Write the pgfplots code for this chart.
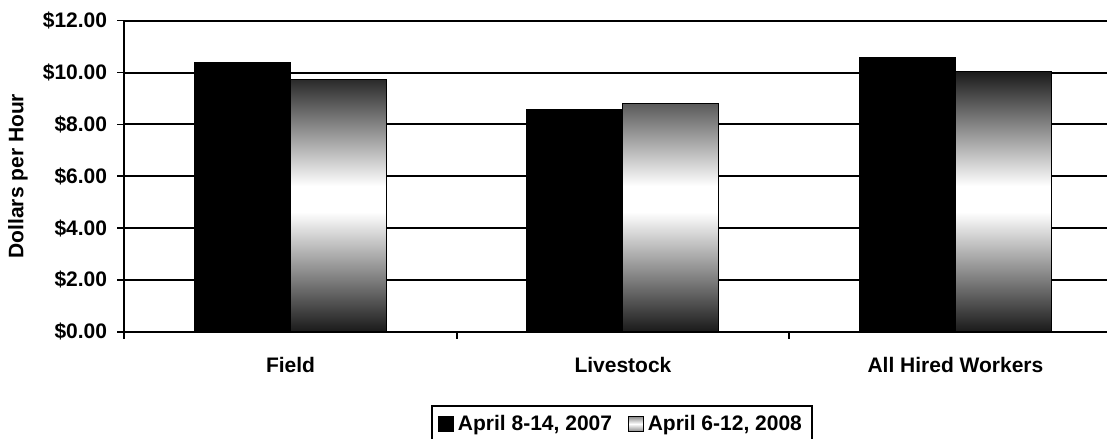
\documentclass[border=0pt]{standalone}
\usepackage{pgfplots}
\pgfplotsset{compat=1.18}
\usepackage{fontspec}
\setmainfont{Liberation Sans}

% black at the ends, white in the middle, as in the 2008 bars
% (the part from 25bp to 75bp is what fills the bar)
\pgfdeclareverticalshading{barshade}{100bp}{%
  color(0bp)=(black); color(25bp)=(black!90); color(48bp)=(white);
  color(53bp)=(white); color(75bp)=(black!90); color(100bp)=(black)}
% paler version for the legend square
\pgfdeclareverticalshading{legshade}{100bp}{%
  color(0bp)=(black!45); color(25bp)=(black!45); color(50bp)=(white);
  color(75bp)=(black!45); color(100bp)=(black!45)}

\begin{document}
\begin{tikzpicture}
\useasboundingbox (-62.15bp,-53.65bp) rectangle (491.35bp,165.85bp);
\begin{axis}[
    at={(0,0)}, anchor=south west,
    scale only axis,
    width=491.35bp, height=155.5bp,
    font=\bfseries\fontsize{10.5bp}{12.6bp}\selectfont,
    ybar=0pt, bar width=48bp,
    xmin=-0.5, xmax=2.456,
    ymin=0, ymax=12,
    axis x line*=bottom, axis y line*=left,
    axis line style={line width=1bp},
    ymajorgrids, grid style={black, line width=1bp},
    tick align=outside, major tick length=3.5bp,
    tick style={black, line width=0.8bp},
    ytick={0,2,...,12},
    yticklabel={\$\pgfmathprintnumber[fixed,fixed zerofill,precision=2]{\tick}},
    yticklabel style={xshift=-1.6bp},
    /pgf/number format/assume math mode=true,
    xtick={-0.5,0.5,1.5}, xticklabels={},
    extra x ticks={0,1,2},
    extra x tick labels={Field,Livestock,All Hired Workers},
    extra x tick style={major tick length=0pt, grid=none,
        xticklabel style={yshift=-9.5bp}},
    ylabel={Dollars per Hour},
    ylabel style={at={(axis description cs:-0.1083,0.5)}, anchor=center},
    legend columns=2,
    legend style={at={(axis description cs:0.5065,0)}, anchor=north,
        yshift=-36.6bp, draw=black, line width=1bp,
        inner xsep=3bp, inner ysep=2.5bp,
        /tikz/every even column/.append style={column sep=6bp}},
    legend image code/.code={%
        \draw[#1, line width=0.5bp] (0bp,-3.7bp) rectangle (7.4bp,3.7bp);},
]
\addplot[draw=black, line width=0.5bp, fill=black]
    coordinates {(0,10.37) (1,8.58) (2,10.59)};
\addplot[draw=black, line width=0.5bp, shading=barshade,
    legend image code/.code={%
        \draw[draw=black, line width=0.5bp, shading=legshade]
            (0bp,-3.7bp) rectangle (7.4bp,3.7bp);}]
    coordinates {(0,9.72) (1,8.80) (2,10.04)};
\legend{{April 8-14, 2007},{April 6-12, 2008}}
\end{axis}
\end{tikzpicture}
\end{document}
